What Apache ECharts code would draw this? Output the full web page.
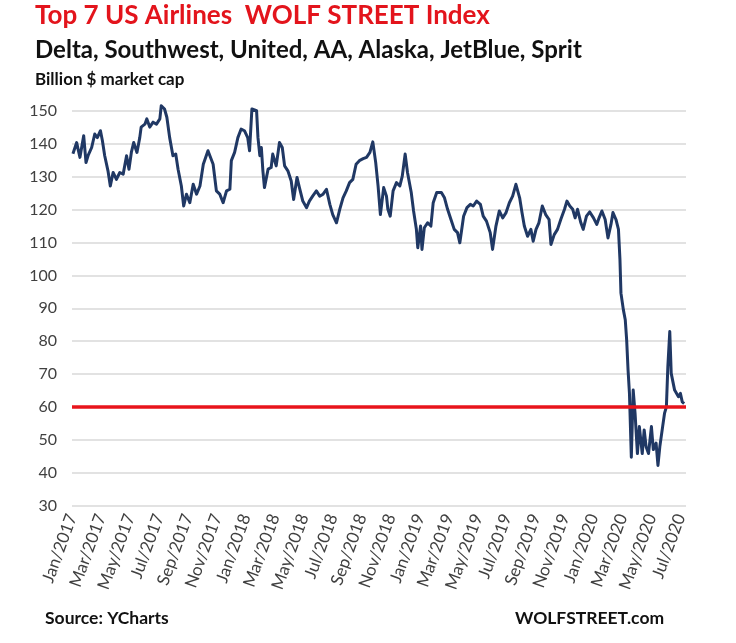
<!DOCTYPE html>
<html>
<head>
<meta charset="utf-8">
<script src="https://cdn.jsdelivr.net/npm/echarts@6/dist/echarts.min.js"></script>
<style>
  html, body { margin: 0; padding: 0; background: #ffffff; }
  #chart { width: 736px; height: 643px; }
</style>
</head>
<body>
<div id="chart"></div>
<script>
// ---- Data ----
const dates = [
  '2017-01-03','2017-01-11','2017-01-14','2017-01-18','2017-01-26','2017-01-31','2017-02-04','2017-02-11','2017-02-17','2017-02-22',
  '2017-02-28','2017-03-04','2017-03-09','2017-03-16','2017-03-21','2017-03-27','2017-04-03','2017-04-10','2017-04-17','2017-04-24',
  '2017-04-29','2017-05-04','2017-05-09','2017-05-16','2017-05-22','2017-05-25','2017-06-02','2017-06-06','2017-06-12','2017-06-19',
  '2017-06-26','2017-07-03','2017-07-06','2017-07-13','2017-07-18','2017-07-24','2017-07-31','2017-08-06','2017-08-11','2017-08-18',
  '2017-08-23','2017-08-29','2017-09-05','2017-09-12','2017-09-19','2017-09-26','2017-10-03','2017-10-13','2017-10-24','2017-10-31',
  '2017-11-07','2017-11-14','2017-11-21','2017-11-28','2017-12-01','2017-12-08','2017-12-15','2017-12-22','2017-12-29','2018-01-05',
  '2018-01-09','2018-01-14','2018-01-24','2018-01-27','2018-01-31','2018-02-03','2018-02-06','2018-02-09','2018-02-16','2018-02-22',
  '2018-02-25','2018-03-04','2018-03-11','2018-03-17','2018-03-22','2018-03-29','2018-04-05','2018-04-10','2018-04-17','2018-04-22',
  '2018-04-29','2018-05-07','2018-05-13','2018-05-20','2018-05-28','2018-06-04','2018-06-11','2018-06-18','2018-06-25','2018-07-01',
  '2018-07-09','2018-07-16','2018-07-23','2018-07-30','2018-08-06','2018-08-13','2018-08-20','2018-08-27','2018-09-04','2018-09-11',
  '2018-09-18','2018-09-24','2018-09-30','2018-10-05','2018-10-10','2018-10-17','2018-10-23','2018-10-26','2018-10-31','2018-11-06',
  '2018-11-13','2018-11-20','2018-11-25','2018-12-01','2018-12-06','2018-12-14','2018-12-19','2018-12-25','2018-12-28','2019-01-03',
  '2019-01-06','2019-01-11','2019-01-18','2019-01-25','2019-01-30','2019-02-06','2019-02-15','2019-02-21','2019-02-27','2019-03-06',
  '2019-03-13','2019-03-20','2019-03-25','2019-04-02','2019-04-09','2019-04-16','2019-04-22','2019-04-29','2019-05-07','2019-05-13',
  '2019-05-20','2019-05-28','2019-06-02','2019-06-09','2019-06-16','2019-06-23','2019-06-30','2019-07-07','2019-07-14','2019-07-21',
  '2019-07-25','2019-07-29','2019-08-03','2019-08-08','2019-08-15','2019-08-22','2019-08-27','2019-09-02','2019-09-08','2019-09-15',
  '2019-09-22','2019-09-29','2019-10-03','2019-10-10','2019-10-17','2019-10-24','2019-11-01','2019-11-06','2019-11-12','2019-11-18',
  '2019-11-23','2019-11-28','2019-12-05','2019-12-10','2019-12-17','2019-12-24','2020-01-01','2020-01-08','2020-01-13','2020-01-19',
  '2020-01-26','2020-02-01','2020-02-07','2020-02-11','2020-02-17','2020-02-22','2020-02-25','2020-02-27','2020-03-03','2020-03-07',
  '2020-03-10','2020-03-13','2020-03-16','2020-03-20','2020-03-24','2020-03-28','2020-04-02','2020-04-06','2020-04-12','2020-04-16',
  '2020-04-20','2020-04-25','2020-05-01','2020-05-05','2020-05-11','2020-05-15','2020-05-19','2020-05-25','2020-05-29','2020-06-02',
  '2020-06-05','2020-06-09','2020-06-12','2020-06-15','2020-06-19','2020-06-23','2020-06-27','2020-07-01','2020-07-05','2020-07-09'
];
const marketCap = [
  137,140.4,138.4,135.9,142.5,134.3,136.4,138.9,143,141.9,
  144,141,136.4,131.8,127.2,131.3,129.2,131.3,130.8,136.4,
  132.3,137.4,140.4,137.4,141.9,145.1,146,147.6,145.1,146.6,
  146,147.6,151.6,150.6,148.1,141.9,136.4,136.9,132.3,127.2,
  121.1,124.7,122.1,127.7,124.7,127.2,133.8,137.9,133.8,125.7,
  124.7,122.1,125.7,126.2,134.9,137.4,141.9,144.5,144,141.9,
  137.9,150.6,150.1,141.9,136.4,138.9,131.8,126.7,132.3,132.8,
  136.9,133.3,140.4,138.9,133.3,131.8,128.7,123.1,129.8,126.7,
  122.6,120.6,122.6,124.1,125.7,124.1,124.7,126.2,121.6,118.5,
  116,120.1,123.6,125.7,128.2,129.2,133.8,134.9,135.5,135.9,
  137.4,140.6,134.3,127.2,118.5,126.7,124.1,120.1,118,125.7,
  128.2,127.2,130.2,136.9,131.3,125.2,119.6,114,108.4,115,
  107.9,114.5,116,115,122.1,125.2,125.2,123.6,120.1,117,
  114,113,109.9,118,120.6,121.6,121.1,122.6,121.6,118,
  116.5,113,107.9,115,119.6,117.5,119.1,122.1,124.1,127.7,
  128.2,123.6,119.1,115,111.9,114,110.4,114,116,121.1,
  118.5,117,109.4,112.4,114,117,120.1,122.6,121.1,120.1,
  117.5,120.1,116,114,118,119.3,117.5,115.5,117.5,119.6,
  117,111.4,115.5,119.1,117,114,104.8,94.6,89.5,86.5,
  80.4,71.2,64.1,44.7,65.1,58,45.8,54,45.8,53,
  47.9,45.8,54,47,49,42.2,47.9,54,58,60,
  72.2,82.9,70.2,70.2,65.1,65.1,63.1,64.1,61.5,61
];
const referenceLevel = 60;
const monthNames = ['Jan','Feb','Mar','Apr','May','Jun','Jul','Aug','Sep','Oct','Nov','Dec'];
const startYear = 2017;

// months elapsed since Jan 1 2017 (fractional)
function monthIndex(d) {
  const [y, m, day] = d.split('-').map(Number);
  const dim = new Date(y, m, 0).getDate();
  return (y - startYear) * 12 + (m - 1) + (day - 1) / dim;
}
const seriesData = dates.map((d, i) => [monthIndex(d), marketCap[i]]);
const lastMonth = monthIndex('2020-07-13');

const chart = echarts.init(document.getElementById('chart'), null, { renderer: 'canvas' });
const font = 'Lato, "Open Sans", sans-serif';

chart.setOption({
  backgroundColor: '#ffffff',
  animation: false,
  graphic: [
    { type: 'text', left: 35, top: 3, style: { text: 'Top 7 US Airlines  WOLF STREET Index', fill: '#e3141c', font: 'bold 26px ' + font } },
    { type: 'text', left: 35, top: 38, style: { text: 'Delta, Southwest, United, AA, Alaska, JetBlue, Sprit', fill: '#111111', font: 'bold 24px ' + font } },
    { type: 'text', left: 35, top: 71, style: { text: 'Billion $ market cap', fill: '#111111', font: 'bold 17px ' + font } },
    { type: 'text', left: 45, top: 609, style: { text: 'Source: YCharts', fill: '#111111', font: 'bold 17.5px ' + font } },
    { type: 'text', left: 515, top: 609, style: { text: 'WOLFSTREET.com', fill: '#111111', font: 'bold 17.5px ' + font } }
  ],
  grid: { left: 72, right: 50, top: 111, bottom: 137.5, containLabel: false },
  xAxis: {
    type: 'value',
    min: 0,
    max: lastMonth,
    interval: 2,
    axisLine: { show: false },
    axisTick: { show: false },
    splitLine: { show: false },
    axisLabel: {
      rotate: 70,
      margin: 9,
      color: '#404040',
      fontFamily: font,
      fontSize: 17,
      showMaxLabel: false,
      formatter: function (v) {
        if (Math.abs(v - Math.round(v)) > 1e-6 || Math.round(v) % 2 !== 0) return '';
        const k = Math.round(v);
        return monthNames[k % 12] + '/' + (startYear + Math.floor(k / 12));
      }
    }
  },
  yAxis: {
    type: 'value',
    min: 30,
    max: 150,
    interval: 10,
    axisLine: { show: false },
    axisTick: { show: false },
    splitLine: { lineStyle: { color: '#d9d9d9', width: 1.5 } },
    axisLabel: { color: '#404040', fontFamily: font, fontSize: 16, margin: 15 }
  },
  series: [{
    type: 'line',
    data: seriesData,
    showSymbol: false,
    clip: false,
    lineStyle: { color: '#203864', width: 3, join: 'round' },
    markLine: {
      silent: true,
      symbol: 'none',
      label: { show: false },
      lineStyle: { color: '#e8141b', width: 3.5, type: 'solid' },
      data: [{ yAxis: referenceLevel }]
    }
  }]
});
</script>
</body>
</html>
